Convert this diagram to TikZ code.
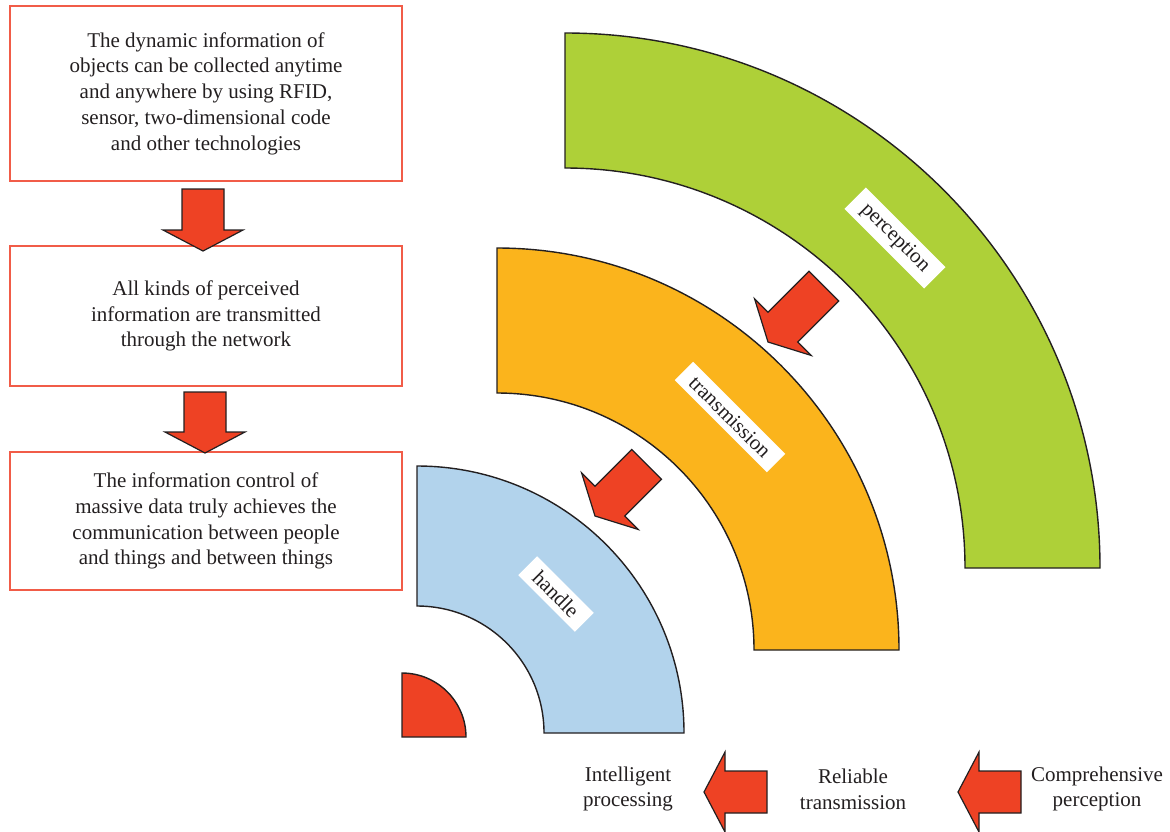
\documentclass[tikz,border=0pt]{standalone}
\usepackage{fontspec}
\setmainfont{Liberation Serif}
\usetikzlibrary{positioning}

\definecolor{percgreen}{RGB}{174,208,56}
\definecolor{transorange}{RGB}{251,180,28}
\definecolor{handleblue}{RGB}{178,211,236}
\definecolor{arrowred}{RGB}{238,66,36}
\definecolor{boxred}{RGB}{241,92,72}
\definecolor{inkgray}{RGB}{35,31,32}

% block arrow: tip, direction, length
\newcommand{\bigarrow}[3]{%
  \draw[blockarrow,shift={(#1)},rotate=#2] (0,0) -- (-21,40) -- (-21,21)
    -- (-#3,21) -- (-#3,-21) -- (-21,-21) -- (-21,-40) -- cycle;}

% quarter ring: centre, inner radius, outer radius, colour
\newcommand{\quarterring}[4]{%
  \draw[ringline,fill=#4] (#1) ++(0,#3) arc (90:0:#3) -- ++(-#3+#2,0)
    arc (0:90:#2) -- cycle;}

\begin{document}
\begin{tikzpicture}[x=0.5pt,y=0.5pt,
    every node/.style={text=inkgray,font=\fontsize{10.5}{12.9}\selectfont},
    infobox/.style={draw=boxred,line width=0.8pt,minimum width=196pt,align=center},
    ringlabel/.style={fill=white,rotate=-45,inner xsep=6pt,inner ysep=3pt},
    blockarrow/.style={fill=arrowred,draw=inkgray,line width=0.6pt,line join=miter},
    ringline/.style={draw=inkgray,line width=0.7pt}]

  \useasboundingbox (0,0) rectangle (1170,-831);

  % left column
  \node[infobox,minimum height=87.5pt] (collect) at (206,-93.5)
    {The dynamic information of\\objects can be collected anytime\\and anywhere by using RFID,\\sensor, two-dimensional code\\and other technologies};
  \node[infobox,minimum height=70pt] (network) at (206,-316)
    {All kinds of perceived\\information are transmitted\\through the network};
  \node[infobox,minimum height=69pt] (control) at (206,-521)
    {The information control of\\massive data truly achieves the\\communication between people\\and things and between things};

  \bigarrow{203,-251}{-90}{62}
  \bigarrow{205,-453}{-90}{61}

  % rings
  \quarterring{565,-568}{400}{535}{percgreen}
  \quarterring{497,-650}{257}{402}{transorange}
  \quarterring{417,-733}{127}{267}{handleblue}
  \draw[ringline,fill=arrowred] (402,-737) -- ++(0,64) arc (90:0:64) -- cycle;

  \node[ringlabel] (perception) at (895,-238) {perception};
  \node[ringlabel] (transmission) at (730,-417) {transmission};
  \node[ringlabel] (handle) at (556,-594) {handle};

  \bigarrow{768,-342}{225}{79}
  \bigarrow{595,-516}{225}{73}

  % bottom row
  \node[align=center] (intelligent) at (628,-789) {Intelligent\\processing};
  \node[align=center] (reliable) at (853,-789) {Reliable\\transmission};
  \node[align=center] (comprehensive) at (1097,-789) {Comprehensive\\perception};

  \bigarrow{704,-792}{180}{63}
  \bigarrow{958,-792}{180}{63}
\end{tikzpicture}
\end{document}
